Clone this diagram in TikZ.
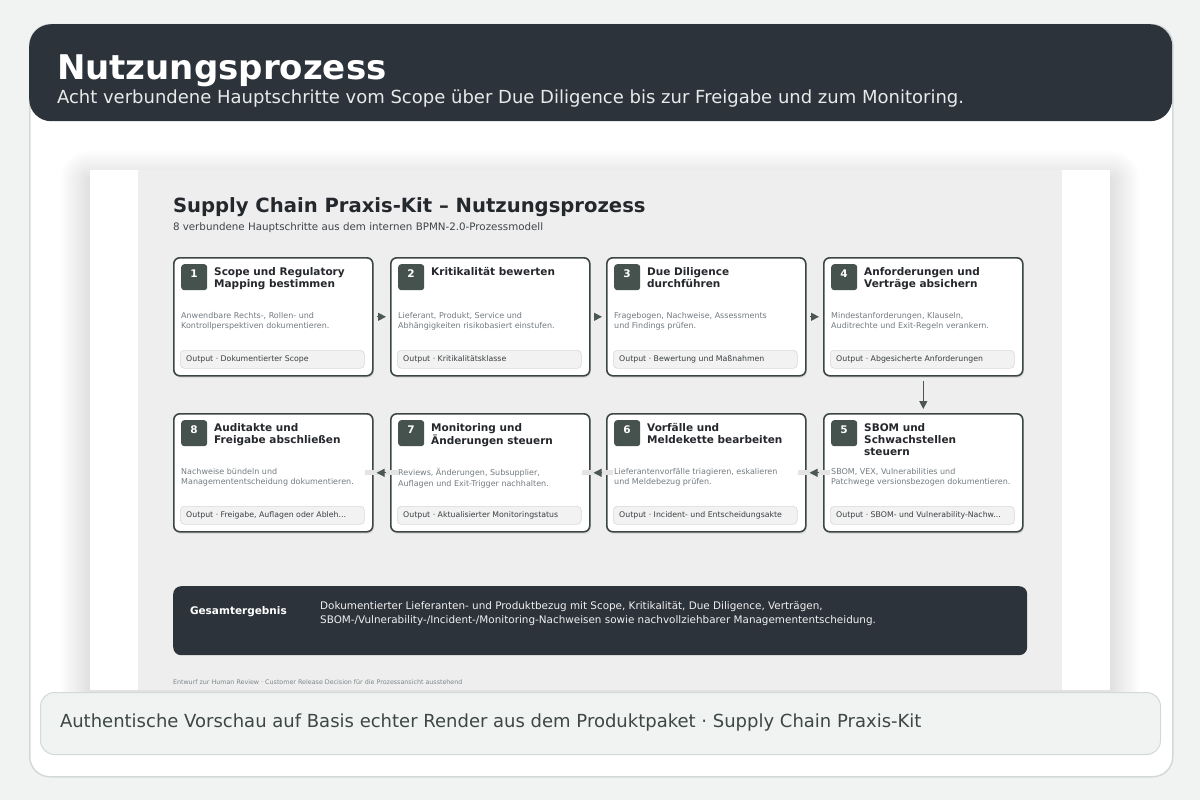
\documentclass[tikz,border=0pt]{standalone}
\usepackage{fontspec}
\setmainfont{DejaVu Sans}
\usetikzlibrary{arrows.meta,shadows}
\definecolor{pagebg}{HTML}{F1F3F2}
\definecolor{darkhd}{HTML}{2D333B}
\definecolor{framec}{HTML}{D3D9D7}
\definecolor{panelc}{HTML}{EEEEEE}
\definecolor{cardline}{HTML}{3C4743}
\definecolor{badgec}{HTML}{46524D}
\definecolor{arrowc}{HTML}{4B5751}
\definecolor{titletx}{HTML}{24272B}
\definecolor{desctx}{HTML}{737B80}
\definecolor{outfill}{HTML}{F2F2F2}
\definecolor{outlinec}{HTML}{D8DBDB}
\definecolor{outtx}{HTML}{3A3F42}
\definecolor{haloc}{HTML}{E4E4E4}
\definecolor{captx}{HTML}{3D4744}
\definecolor{hdsubc}{HTML}{E6EAE9}
\definecolor{subtx}{HTML}{3F4548}
\definecolor{foottx}{HTML}{7E868A}

\newcommand{\mkcard}[7]{%
  \node[cardbox] (#1) at (#2,#3) {};
  \node[badgebox] (#1b) at ({#2+8},{#3+7}) {};
  \node[numtx] (#1n) at ({#2+21},{#3+16.5}) {#4};
  \node[ctitle] (#1t) at ({#2+41},{#3+10}) {#5};
  \node[cdesc] (#1d) at ({#2+8},{#3+55}) {#6};
  \node[outbox] (#1o) at ({#2+7},{#3+93}) {};
  \node[outtxt] (#1x) at ({#2+13},{#3+102.5}) {Output · #7};
}

\begin{document}
\begin{tikzpicture}[x=1pt,y=-1pt,
  txt/.style={inner sep=0pt, outer sep=0pt, anchor=base west},
  cardbox/.style={draw=cardline, line width=1.6pt, fill=white, rounded corners=6pt,
    minimum width=199pt, minimum height=118pt, anchor=north west, inner sep=0pt,
    drop shadow={shadow xshift=1pt, shadow yshift=-2pt, fill=black, opacity=0.08}},
  badgebox/.style={fill=badgec, rounded corners=3pt, minimum width=26pt, minimum height=26pt,
    anchor=north west, inner sep=0pt},
  numtx/.style={text=white, font=\fontsize{10.5}{12}\selectfont\bfseries, inner sep=0pt},
  ctitle/.style={anchor=north west, inner sep=0pt, align=left, text=titletx,
    font=\fontsize{10.5}{12}\selectfont\bfseries},
  cdesc/.style={anchor=north west, inner sep=0pt, align=left, text=desctx,
    font=\fontsize{8}{10.5}\selectfont},
  outbox/.style={fill=outfill, draw=outlinec, line width=0.6pt, rounded corners=4pt,
    minimum width=184pt, minimum height=18pt, anchor=north west, inner sep=0pt},
  outtxt/.style={anchor=west, inner sep=0pt, text=outtx, font=\fontsize{7.8}{9}\selectfont},
  flow/.style={draw=arrowc, line width=1.2pt, -{Triangle[length=8pt,width=8pt]}},
  haloline/.style={draw=haloc, line width=5pt}]

\useasboundingbox (0,0) rectangle (1200,800);
\fill[pagebg] (0,0) rectangle (1200,800);

% outer card and header
\node[draw=framec, line width=1.5pt, fill=white, rounded corners=20pt, minimum width=1143pt,
  minimum height=752pt, anchor=north west, inner sep=0pt] (outer) at (29,24) {};
\node[fill=darkhd, rounded corners=22pt, minimum width=1143pt, minimum height=97pt,
  anchor=north west, inner sep=0pt] (header) at (29,24) {};
\node[txt, text=white, font=\fontsize{34}{40}\selectfont\bfseries] (hdtitle) at (57,80) {Nutzungsprozess};
\node[txt, text=hdsubc, font=\fontsize{18}{21}\selectfont] (hdsub) at (57,103)
  {Acht verbundene Hauptschritte vom Scope über Due Diligence bis zur Freigabe und zum Monitoring.};

% soft shadow of the screenshot
\foreach \i in {1,...,30}{
  \fill[black, opacity=0.0055, rounded corners={\i*1pt}]
    ({90-\i},{180-\i}) rectangle ({1110+\i},{690+\i});
}
% screenshot panel
\node[fill=white, minimum width=1020pt, minimum height=520pt, anchor=north west, inner sep=0pt]
  (shot) at (90,170) {};
\node[fill=panelc, minimum width=924pt, minimum height=520pt, anchor=north west, inner sep=0pt]
  (panel) at (138,170) {};

\node[txt, text=titletx, font=\fontsize{19.6}{22}\selectfont\bfseries] (ptitle) at (173,212)
  {Supply Chain Praxis-Kit – Nutzungsprozess};
\node[txt, text=subtx, font=\fontsize{10.3}{12}\selectfont] (psub) at (173,230.5)
  {8 verbundene Hauptschritte aus dem internen BPMN-2.0-Prozessmodell};

% cards
\mkcard{c1}{173}{257}{1}{Scope und Regulatory\\Mapping bestimmen}{Anwendbare Rechts-, Rollen- und\\Kontrollperspektiven dokumentieren.}{Dokumentierter Scope}
\mkcard{c2}{390}{257}{2}{Kritikalität bewerten}{Lieferant, Produkt, Service und\\Abhängigkeiten risikobasiert einstufen.}{Kritikalitätsklasse}
\mkcard{c3}{606}{257}{3}{Due Diligence\\durchführen}{Fragebogen, Nachweise, Assessments\\und Findings prüfen.}{Bewertung und Maßnahmen}
\mkcard{c4}{823}{257}{4}{Anforderungen und\\Verträge absichern}{Mindestanforderungen, Klauseln,\\Auditrechte und Exit-Regeln verankern.}{Abgesicherte Anforderungen}
\mkcard{c5}{823}{413}{5}{SBOM und\\Schwachstellen\\steuern}{SBOM, VEX, Vulnerabilities und\\Patchwege versionsbezogen dokumentieren.}{SBOM- und Vulnerability-Nachw...}
\mkcard{c6}{606}{413}{6}{Vorfälle und\\Meldekette bearbeiten}{Lieferantenvorfälle triagieren, eskalieren\\und Meldebezug prüfen.}{Incident- und Entscheidungsakte}
\mkcard{c7}{390}{413}{7}{Monitoring und\\Änderungen steuern}{Reviews, Änderungen, Subsupplier,\\Auflagen und Exit-Trigger nachhalten.}{Aktualisierter Monitoringstatus}
\mkcard{c8}{173}{413}{8}{Auditakte und\\Freigabe abschließen}{Nachweise bündeln und\\Managemententscheidung dokumentieren.}{Freigabe, Auflagen oder Ableh...}

% connectors
\draw[flow, shorten <=3pt, shorten >=4pt] (c1.east) -- (c2.west);
\draw[flow, shorten <=3pt, shorten >=4pt] (c2.east) -- (c3.west);
\draw[flow, shorten <=3pt, shorten >=4pt] (c3.east) -- (c4.west);
\draw[flow, shorten <=4pt, shorten >=4pt] (c4.south) -- (c5.north);
\draw[haloline] ([xshift=7pt]c5.west) -- ([xshift=-9pt]c6.east);
\draw[flow, shorten <=4pt, shorten >=3pt] (c5.west) -- (c6.east);
\draw[haloline] ([xshift=7pt]c6.west) -- ([xshift=-9pt]c7.east);
\draw[flow, shorten <=4pt, shorten >=3pt] (c6.west) -- (c7.east);
\draw[haloline] ([xshift=8pt]c7.west) -- ([xshift=-9pt]c8.east);
\draw[flow, shorten <=4pt, shorten >=3pt] (c7.west) -- (c8.east);

% summary
\node[fill=darkhd, rounded corners=8pt, minimum width=854pt, minimum height=69pt,
  anchor=north west, inner sep=0pt] (sum) at (173,586) {};
\node[txt, text=white, font=\fontsize{10.5}{12}\selectfont\bfseries] (sumlbl) at (190,614) {Gesamtergebnis};
\node[anchor=north west, inner sep=0pt, align=left, text=white!94!black,
  font=\fontsize{10.4}{14}\selectfont] (sumtx) at (320,601)
  {Dokumentierter Lieferanten- und Produktbezug mit Scope, Kritikalität, Due Diligence, Verträgen,\\
   SBOM-/Vulnerability-/Incident-/Monitoring-Nachweisen sowie nachvollziehbarer Managemententscheidung.};

\node[txt, text=foottx, font=\fontsize{6.35}{7}\selectfont] (foot) at (173,684.5)
  {Entwurf zur Human Review · Customer Release Decision für die Prozessansicht ausstehend};

% caption
\node[fill=pagebg, draw=framec, line width=1pt, rounded corners=14pt, minimum width=1120pt,
  minimum height=62pt, anchor=north west, inner sep=0pt] (capbox) at (40,692) {};
\node[txt, text=captx, font=\fontsize{18}{21}\selectfont] (cap) at (60,727)
  {Authentische Vorschau auf Basis echter Render aus dem Produktpaket · Supply Chain Praxis-Kit};
\end{tikzpicture}
\end{document}
